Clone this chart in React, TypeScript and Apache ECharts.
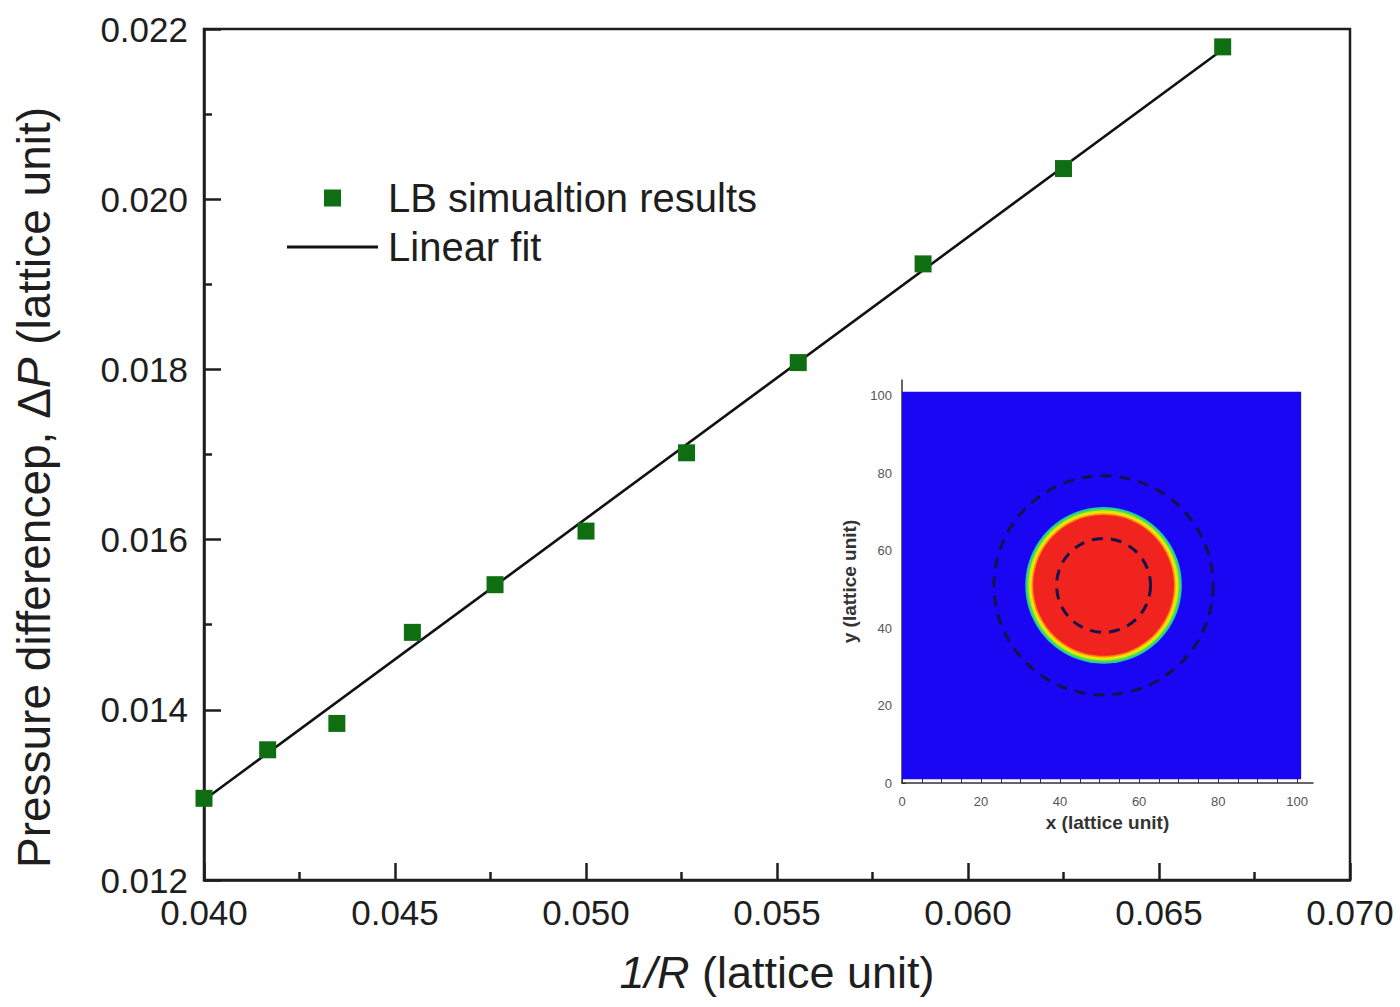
import React, { useEffect, useRef } from 'react';
import * as echarts from 'echarts';

// Laplace test: inverse droplet radius vs. pressure difference across the interface
const invRadius = [0.04, 0.041667, 0.043478, 0.045455, 0.047619, 0.05, 0.052632, 0.055556, 0.058824, 0.0625, 0.066667];
const pressureDiff = [0.01296, 0.01353, 0.01384, 0.01491, 0.01547, 0.0161, 0.01702, 0.01808, 0.01924, 0.02036, 0.02179];

// End points of the least-squares line
const fitInvRadius = [0.04, 0.066667];
const fitPressureDiff = [0.01294, 0.02176];

// Inset: density field of a single droplet on a 101 x 101 lattice
const fieldExtentX = [0, 101];
const fieldExtentY = [1, 101];
const dropletCenter = [51, 51];
const interfaceRadii = [20.0, 19.6, 19.2, 18.8, 18.4, 18.0];
const contourRadii = [12, 28];
const insetTickValues = [0, 5, 10, 15, 20, 25, 30, 35, 40, 45, 50, 55, 60, 65, 70, 75, 80, 85, 90, 95, 100];
const insetLabelValues = [0, 20, 40, 60, 80, 100];

const SANS = "'Liberation Sans', Arial, Helvetica, sans-serif";
const INK = '#1e1e1e';
const MARKER_GREEN = '#0f6e12';
const FIELD_BLUE = '#1a06f2';
const BAND_COLORS = ['#20c8b0', '#52dc40', '#c6ee12', '#ffe000', '#ff8a14', '#f0231e'];

// legend glyphs: a solid square and a thin horizontal bar
const SQUARE_ICON = 'path://M0,0h10v10h-10z';
const BAR_ICON = 'path://M0,0h91v3h-91z';

export default function App() {
  const ref = useRef<HTMLDivElement>(null);

  useEffect(() => {
    if (!ref.current) return;
    const chart = echarts.init(ref.current, undefined, { renderer: 'svg' });

    const mainAxisLine = { show: true, onZero: false, lineStyle: { color: INK, width: 2.5 } };
    const mainTick = { show: true, inside: true, length: 17, lineStyle: { color: INK, width: 2.5 } };
    const mainMinor = { show: true, splitNumber: 2, length: 8, lineStyle: { color: INK, width: 2.5 } };

    const insetAxisLine = { show: true, onZero: false, lineStyle: { color: '#333', width: 1.5 } };
    const insetTick = { show: true, inside: true, length: 4, customValues: insetTickValues, lineStyle: { color: '#333', width: 1 } };
    const insetLabel = {
      show: true,
      fontFamily: SANS,
      fontSize: 13,
      color: '#555',
      customValues: insetLabelValues,
      formatter: (v: number) => (v <= 100 && v % 20 === 0 ? String(v) : ''),
    };

    chart.setOption({
      animation: false,
      backgroundColor: '#ffffff',
      grid: [
        { left: 204, top: 29, right: 50, bottom: 127, show: true, borderColor: INK, borderWidth: 2.5, containLabel: false },
        { left: 902, top: 380, right: 87, bottom: 224, show: false, containLabel: false },
      ],
      legend: {
        orient: 'vertical',
        left: 287,
        top: 178,
        padding: 0,
        itemWidth: 91,
        itemHeight: 17,
        itemGap: 9,
        symbolKeepAspect: true,
        textStyle: { fontFamily: SANS, fontSize: 40, color: INK, padding: [0, 0, 0, 5], lineHeight: 40 },
        data: [
          { name: 'LB simualtion results', icon: SQUARE_ICON, itemStyle: { color: MARKER_GREEN } },
          { name: 'Linear fit', icon: BAR_ICON, itemStyle: { color: '#111' } },
        ],
      },
      xAxis: [
        {
          type: 'value',
          gridIndex: 0,
          min: 0.04,
          max: 0.07,
          interval: 0.005,
          axisLine: mainAxisLine,
          axisTick: mainTick,
          minorTick: mainMinor,
          splitLine: { show: false },
          axisLabel: { fontFamily: SANS, fontSize: 35, color: INK, margin: 15, formatter: (v: number) => v.toFixed(3) },
          name: '{i|1/R} (lattice unit)',
          nameLocation: 'middle',
          nameGap: 70,
          nameTextStyle: {
            fontFamily: SANS,
            fontSize: 45,
            color: INK,
            rich: { i: { fontFamily: SANS, fontSize: 45, fontStyle: 'italic', color: INK } },
          },
        },
        {
          type: 'value',
          gridIndex: 1,
          min: 0,
          max: 104,
          interval: 20,
          axisLine: insetAxisLine,
          axisTick: insetTick,
          splitLine: { show: false },
          axisLabel: { ...insetLabel, margin: 12 },
          name: 'x (lattice unit)',
          nameLocation: 'middle',
          nameGap: 30,
          nameTextStyle: { fontFamily: SANS, fontSize: 19, fontWeight: 'bold', color: '#333' },
        },
      ],
      yAxis: [
        {
          type: 'value',
          gridIndex: 0,
          min: 0.012,
          max: 0.022,
          interval: 0.002,
          axisLine: mainAxisLine,
          axisTick: mainTick,
          minorTick: mainMinor,
          splitLine: { show: false },
          axisLabel: { fontFamily: SANS, fontSize: 35, color: INK, margin: 16, formatter: (v: number) => v.toFixed(3) },
          name: 'Pressure differencep, Δ{i|P} (lattice unit)',
          nameLocation: 'middle',
          nameGap: 147,
          nameRotate: 90,
          nameTextStyle: {
            fontFamily: SANS,
            fontSize: 46,
            color: INK,
            padding: [0, 66, 0, 0],
            rich: { i: { fontFamily: SANS, fontSize: 46, fontStyle: 'italic', color: INK } },
          },
        },
        {
          type: 'value',
          gridIndex: 1,
          min: 0,
          max: 104,
          interval: 20,
          axisLine: insetAxisLine,
          axisTick: insetTick,
          splitLine: { show: false },
          axisLabel: { ...insetLabel, margin: 10 },
          name: 'y (lattice unit)',
          nameLocation: 'middle',
          nameGap: 43,
          nameRotate: 90,
          nameTextStyle: { fontFamily: SANS, fontSize: 19, fontWeight: 'bold', color: '#333' },
        },
      ],
      series: [
        {
          name: 'Linear fit',
          type: 'line',
          xAxisIndex: 0,
          yAxisIndex: 0,
          data: fitInvRadius.map((x, i) => [x, fitPressureDiff[i]]),
          symbol: 'none',
          lineStyle: { color: '#111', width: 2.6 },
          itemStyle: { color: '#111' },
          z: 2,
        },
        {
          name: 'LB simualtion results',
          type: 'scatter',
          xAxisIndex: 0,
          yAxisIndex: 0,
          data: invRadius.map((x, i) => [x, pressureDiff[i]]),
          symbol: 'rect',
          symbolSize: 17,
          itemStyle: { color: MARKER_GREEN, opacity: 1 },
          z: 3,
        },
        // inset: background phase
        {
          type: 'custom',
          xAxisIndex: 1,
          yAxisIndex: 1,
          silent: true,
          z: 4,
          data: [[fieldExtentX[0], fieldExtentY[0], fieldExtentX[1], fieldExtentY[1]]],
          encode: { x: [0, 2], y: [1, 3] },
          renderItem: (_p: any, api: any) => {
            const tl = api.coord([api.value(0), api.value(3)]);
            const br = api.coord([api.value(2), api.value(1)]);
            return {
              type: 'rect',
              shape: { x: tl[0], y: tl[1], width: br[0] - tl[0], height: br[1] - tl[1] },
              style: { fill: FIELD_BLUE },
            };
          },
        },
        // inset: droplet with its diffuse interface
        {
          type: 'custom',
          xAxisIndex: 1,
          yAxisIndex: 1,
          silent: true,
          z: 5,
          data: interfaceRadii.map((r, i) => [dropletCenter[0], dropletCenter[1], r, i]),
          encode: { x: 0, y: 1 },
          renderItem: (_p: any, api: any) => {
            const c = api.coord([api.value(0), api.value(1)]);
            const s = api.size([api.value(2), api.value(2)]);
            return {
              type: 'circle',
              shape: { cx: c[0], cy: c[1], r: (s[0] + s[1]) / 2 },
              style: { fill: BAND_COLORS[api.value(3)] },
            };
          },
        },
        // inset: dashed contour lines
        {
          type: 'custom',
          xAxisIndex: 1,
          yAxisIndex: 1,
          silent: true,
          z: 6,
          data: contourRadii.map((r) => [dropletCenter[0], dropletCenter[1], r]),
          encode: { x: 0, y: 1 },
          renderItem: (_p: any, api: any) => {
            const c = api.coord([api.value(0), api.value(1)]);
            const s = api.size([api.value(2), api.value(2)]);
            return {
              type: 'circle',
              shape: { cx: c[0], cy: c[1], r: (s[0] + s[1]) / 2 },
              style: { fill: 'none', stroke: '#14124a', lineWidth: 3, lineDash: [11, 8] },
            };
          },
        },
      ],
    });

    return () => chart.dispose();
  }, []);

  return (
    <div
      ref={ref}
      style={{ position: 'fixed', left: 0, top: 0, width: 1400, height: 1007, background: '#fff' }}
    />
  );
}
